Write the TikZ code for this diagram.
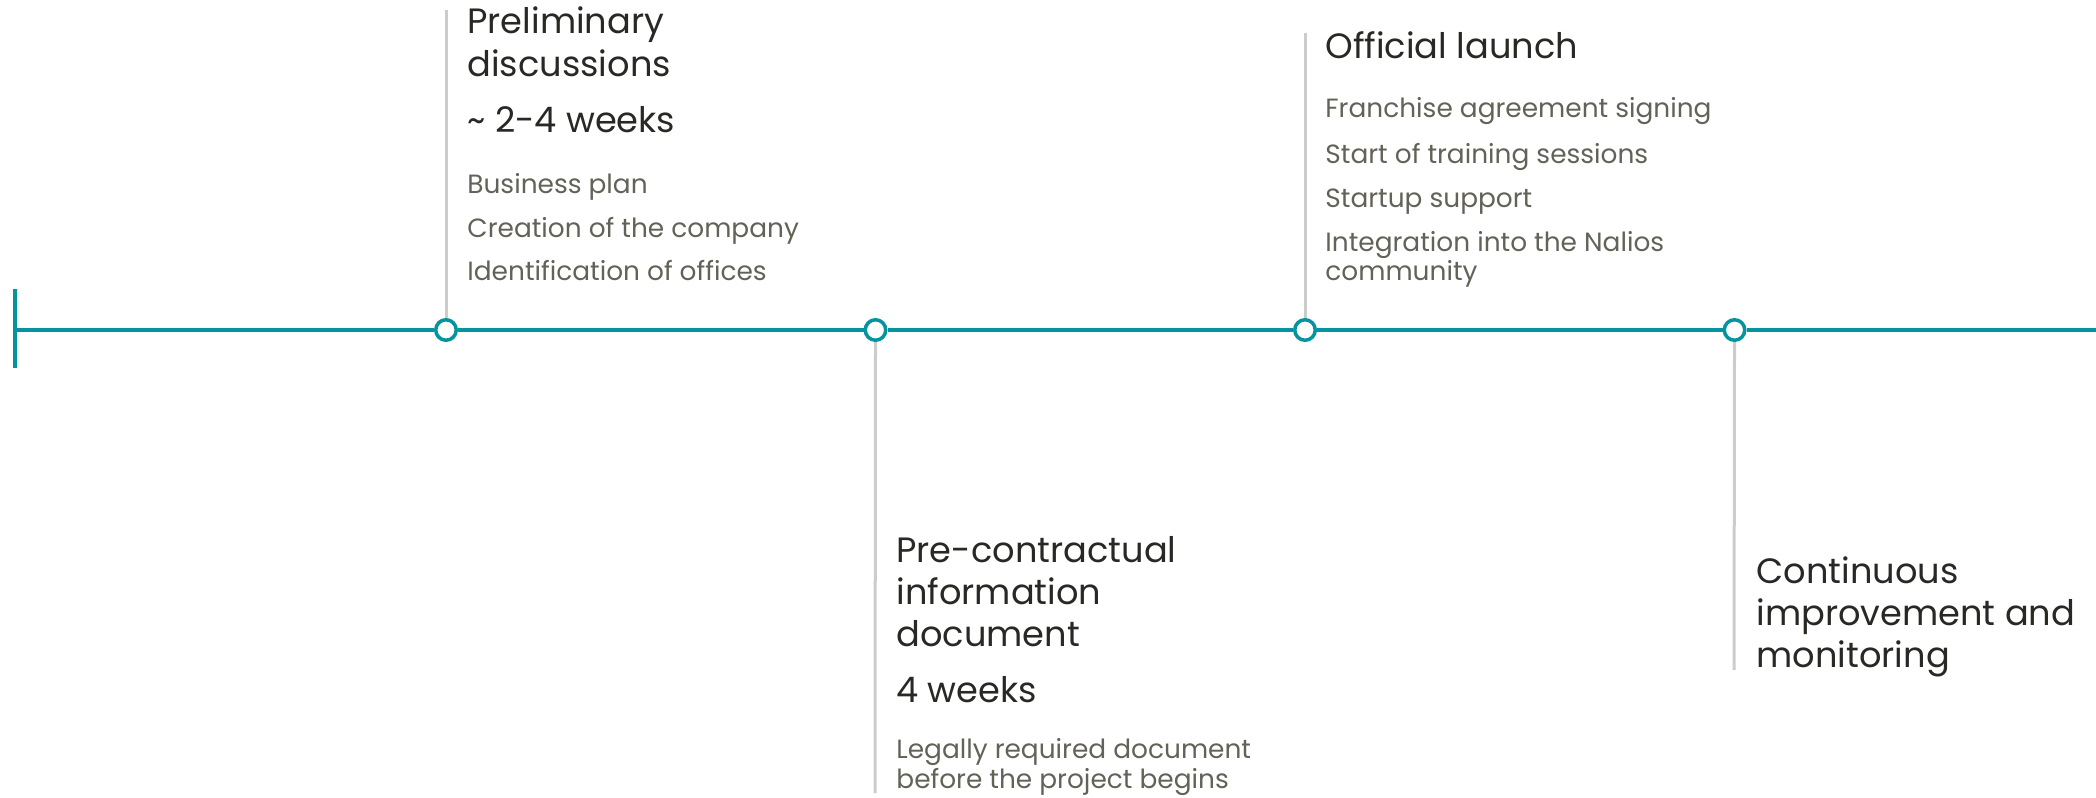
\documentclass[tikz,border=0pt]{standalone}
\usepackage{fontspec}
\setmainfont{Poppins}
\usetikzlibrary{positioning}
\definecolor{lineteal}{RGB}{4,148,160}
\definecolor{stemgray}{RGB}{204,204,204}
\definecolor{headink}{RGB}{40,40,36}
\definecolor{itemink}{RGB}{98,98,88}

\begin{document}
\begin{tikzpicture}[x=0.5pt,y=-0.5pt,node distance=214.75pt,on grid,
  milestone/.style={circle,draw=lineteal,line width=1.75pt,fill=white,inner sep=0pt,minimum size=10.25pt},
  axis/.style={draw=lineteal,line width=1.75pt},
  stem/.style={draw=stemgray,line width=1.5pt},
  head/.style={anchor=base west,inner sep=0pt,align=left,text=headink,
    font=\fontsize{17.6}{21}\selectfont},
  item/.style={anchor=base west,inner sep=0pt,align=left,text=itemink,
    font=\fontsize{13.2}{14.5}\selectfont}]
\useasboundingbox (0,0) rectangle (2096,797);

% the milestones on the time axis
  \node[milestone] (m1) at (446,330) {};
  \node[milestone] (m2) [right=of m1] {};
  \node[milestone] (m3) [right=of m2] {};
  \node[milestone] (m4) [right=of m3] {};

% ends of the axis and of the stems
  \coordinate (start) at (15,330);
  \coordinate (tickup) at (15,289);
  \coordinate (tickdown) at (15,368);
  \coordinate (end) at (2096,330);
  \coordinate (top1) at (446,10);
  \coordinate (bot2) at (875,793);
  \coordinate (top3) at (1305,33);
  \coordinate (bot4) at (1734,670);

% the axis
  \draw[axis] (tickup) -- (tickdown);
  \draw[axis] (start) -- (m1.west)
        (m1.east) -- (m2.west)
        (m2.east) -- (m3.west)
        (m3.east) -- (m4.west)
        (m4.east) -- (end);

% the stems
  \draw[stem] (m1.north) -- (top1);
  \draw[stem] (m2.south) -- (bot2);
  \draw[stem] (m3.north) -- (top3);
  \draw[stem] (m4.south) -- (bot4);

% first milestone (multi-line nodes sit on their last line)
  \node[head] (h1) at (467,76) {Preliminary\\discussions};
  \node[head] (d1) at (467,133) {\textasciitilde{} 2-4 weeks};
  \node[item] (a1) at (467,193) {Business plan};
  \node[item] (b1) at (467,237) {Creation of the company};
  \node[item] (c1) at (467,280) {Identification of offices};

% second milestone
  \node[head] (h2) at (896,646) {Pre-contractual\\information\\document};
  \node[head] (d2) at (896,702) {4 weeks};
  \node[item,font=\fontsize{13.2}{13}\selectfont] (a2) at (896,788) {Legally required document\\before the project begins};

% third milestone
  \node[head] (h3) at (1325,59) {Official launch};
  \node[item] (a3) at (1325,118) {Franchise agreement signing};
  \node[item] (b3) at (1325,163) {Start of training sessions};
  \node[item] (c3) at (1325,207) {Startup support};
  \node[item] (e3) at (1325,280) {Integration into the Nalios\\community};

% fourth milestone
  \node[head] (h4) at (1756,667) {Continuous\\improvement and\\monitoring};
\end{tikzpicture}
\end{document}
